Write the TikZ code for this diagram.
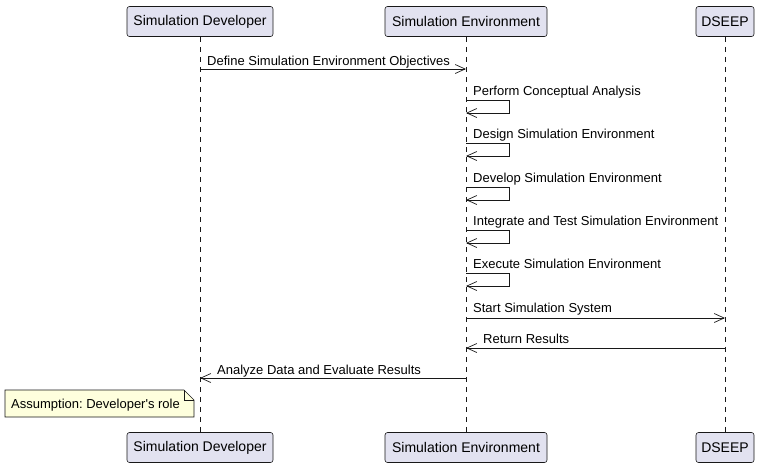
\documentclass[tikz,border=0pt]{standalone}
\usepackage{fontspec}
\setmainfont{Liberation Sans}
\usetikzlibrary{arrows.meta}
\definecolor{partfill}{HTML}{E2E2F0}
\definecolor{lineclr}{HTML}{181818}
\definecolor{notefill}{HTML}{FEFFDD}
\frenchspacing
\begin{document}
\begin{tikzpicture}[x=1pt,y=-1pt,
  part/.style={draw=lineclr,fill=partfill,rounded corners=2.5pt,minimum height=30pt,inner sep=0pt,font=\fontsize{14}{16}\selectfont,line width=0.6pt},
  life/.style={draw=lineclr,dash pattern=on 5pt off 5pt,line width=0.5pt},
  msg/.style={draw=lineclr,line width=0.7pt,-{Straight Barb[length=10pt,width=9pt,line width=0.7pt]}},
  mlabel/.style={anchor=base west,inner sep=0pt,font=\fontsize{13}{15}\selectfont}]
\useasboundingbox (0,0) rectangle (762,467);
% participants
\node[part,minimum width=146pt] (sdT) at (200,21.5) {Simulation Developer};
\node[part,minimum width=162pt] (seT) at (466,21.5) {Simulation Environment};
\node[part,minimum width=58pt] (dsT) at (725,21.5) {DSEEP};
\node[part,minimum width=146pt] (sdB) at (200,447.5) {Simulation Developer};
\node[part,minimum width=162pt] (seB) at (466,447.5) {Simulation Environment};
\node[part,minimum width=58pt] (dsB) at (725,447.5) {DSEEP};
% lifelines
\draw[life] (sdT.south) -- (sdB.north);
\draw[life] (seT.south) -- (seB.north);
\draw[life] (dsT.south) -- (dsB.north);
% message 1
\draw[msg] (sdT.south |- 0,69) -- (seT.south |- 0,69);
\node[mlabel] (l1) at (207,65) {Define Simulation Environment Objectives};
% self messages
\foreach \y/\t [count=\i] in {100/Perform Conceptual Analysis,143/Design Simulation Environment,187/Develop Simulation Environment,230/Integrate and Test Simulation Environment,273/Execute Simulation Environment}{
  \draw[msg] (seT.south |- 0,\y) -- ++(43,0) -- ++(0,13) -- (seT.south |- 0,\y+13);
  \node[mlabel] (s\i) at (473,\y-5) {\t};
}
% message 7
\draw[msg] (seT.south |- 0,318) -- (dsT.south |- 0,318);
\node[mlabel] (l7) at (473,312) {Start Simulation System};
% message 8
\draw[msg] (dsT.south |- 0,348) -- (seT.south |- 0,348);
\node[mlabel] (l8) at (483,343) {Return Results};
% message 9
\draw[msg] (seT.south |- 0,378) -- (sdT.south |- 0,378);
\node[mlabel] (l9) at (217,374) {Analyze Data and Evaluate Results};
% note
\draw[draw=lineclr,fill=notefill,line width=0.6pt] (5,390) -- (184,390) -- (194,400) -- (194,417) -- (5,417) -- cycle;
\draw[draw=lineclr,line width=0.6pt] (184,390) -- (184,400) -- (194,400);
\node[anchor=base west,inner sep=0pt,font=\fontsize{13}{15}\selectfont] (note) at (11,408) {Assumption: Developer\textquotesingle s role};
\end{tikzpicture}
\end{document}
